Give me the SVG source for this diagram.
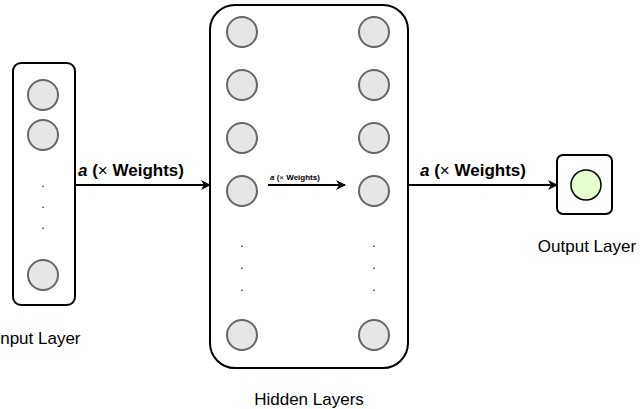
<svg xmlns="http://www.w3.org/2000/svg" width="640" height="409" viewBox="0 0 640 409">
<style>
.box{fill:#fff;stroke:#000;stroke-width:2}
.n{fill:#e6e6e6;stroke:#666;stroke-width:2}
.t{font-family:"Liberation Sans",Arial,sans-serif;font-size:17px;fill:#000}
.l{font-family:"Liberation Sans",Arial,sans-serif;font-weight:bold;fill:#000}
.d{font-family:"Liberation Sans",Arial,sans-serif;font-size:12px;fill:#000}
.c{stroke:#000;stroke-width:2;fill:none}
</style>
<defs><marker id="ah" markerWidth="10" markerHeight="10" refX="9" refY="5" orient="auto" markerUnits="userSpaceOnUse"><path d="M0,0 L10,5 L0,10 L3,5 Z" fill="#000"/></marker></defs>
<g id="input">
<rect class="box" x="13" y="63" width="62" height="242" rx="8"/>
<circle class="n" cx="43" cy="95" r="15"/><circle class="n" cx="43" cy="135" r="15"/><circle class="n" cx="43" cy="275" r="15"/>
<text class="d" x="43" y="187" text-anchor="middle">.</text><text class="d" x="43" y="208" text-anchor="middle">.</text><text class="d" x="43" y="229" text-anchor="middle">.</text>
<text class="t" x="38" y="344" text-anchor="middle">Input Layer</text>
</g>
<g id="hidden">
<rect class="box" x="210" y="5" width="198" height="363" rx="25"/>
<circle class="n" cx="242" cy="32" r="15"/><circle class="n" cx="242" cy="85" r="15"/><circle class="n" cx="242" cy="138" r="15"/><circle class="n" cx="242" cy="191" r="15"/><circle class="n" cx="242" cy="335" r="15"/>
<circle class="n" cx="374" cy="32" r="15"/><circle class="n" cx="374" cy="85" r="15"/><circle class="n" cx="374" cy="138" r="15"/><circle class="n" cx="374" cy="191" r="15"/><circle class="n" cx="374" cy="335" r="15"/>
<text class="d" x="242" y="247" text-anchor="middle">.</text><text class="d" x="242" y="269" text-anchor="middle">.</text><text class="d" x="242" y="291" text-anchor="middle">.</text>
<text class="d" x="374" y="247" text-anchor="middle">.</text><text class="d" x="374" y="269" text-anchor="middle">.</text><text class="d" x="374" y="291" text-anchor="middle">.</text>
<text class="t" x="309" y="405" text-anchor="middle">Hidden Layers</text>
</g>
<g id="output">
<rect class="box" x="557" y="155" width="55" height="59" rx="6"/>
<circle cx="586" cy="185" r="15" fill="#e6ffcc" stroke="#000" stroke-width="1.5"/>
<text class="t" x="587" y="252" text-anchor="middle">Output Layer</text>
</g>
<g id="connectors">
<line class="c" x1="75" y1="185" x2="210" y2="185" marker-end="url(#ah)"/>
<line class="c" x1="268" y1="185" x2="345" y2="185" marker-end="url(#ah)"/>
<line class="c" x1="408" y1="185" x2="557" y2="185" marker-end="url(#ah)"/>
<text class="l" x="78" y="176" font-size="17"><tspan font-style="italic">a</tspan> (<tspan font-weight="normal">×</tspan> Weights)</text>
<text class="l" x="270" y="180" font-size="8"><tspan font-style="italic">a</tspan> (<tspan font-weight="normal">×</tspan> Weights)</text>
<text class="l" x="420" y="176" font-size="17"><tspan font-style="italic">a</tspan> (<tspan font-weight="normal">×</tspan> Weights)</text>
</g>
</svg>
